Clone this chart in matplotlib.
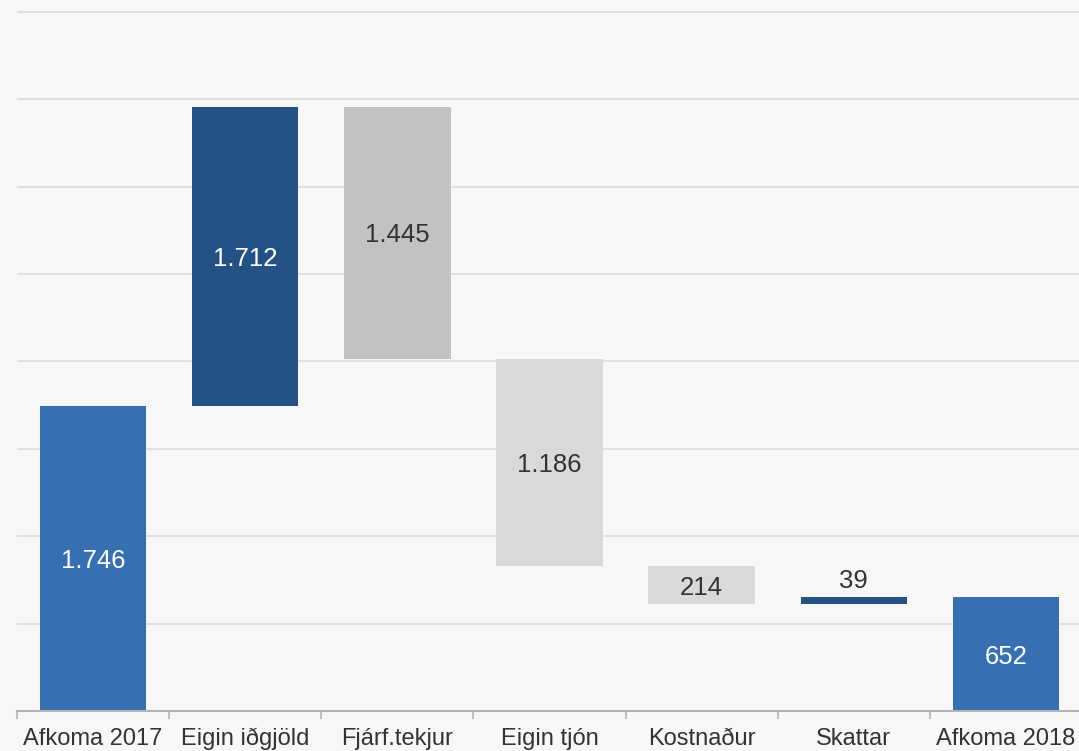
import matplotlib
matplotlib.use("Agg")
import matplotlib.pyplot as plt

categories = ["Afkoma 2017", "Eigin iðgjöld", "Fjárf.tekjur", "Eigin tjón", "Kostnaður", "Skattar", "Afkoma 2018"]
values = [1746, 1712, -1445, -1186, -214, 39, 652]
kinds = ["total", "delta", "delta", "delta", "delta", "delta", "total"]
labels = ["1.746", "1.712", "1.445", "1.186", "214", "39", "652"]
colors = ["#3670b2", "#245284", "#c1c2c1", "#d9d9d9", "#d9d9d9", "#245284", "#3670b2"]
label_colors = ["white", "white", "#333333", "#333333", "#333333", "#333333", "white"]
label_pos = ["in", "in", "in", "in", "in", "above", "in"]

plt.rcParams["font.family"] = ["Liberation Sans", "DejaVu Sans"]

W, H = 1079, 751
fig = plt.figure(figsize=(W / 100, H / 100), dpi=100)
fig.patch.set_facecolor("#f7f7f7")
left = 17 / W
bottom = (H - 711) / H
ax = fig.add_axes([left, bottom, 1 - left, 1 - bottom])
ax.set_facecolor("#f7f7f7")

ax.set_ylim(0, 4000 * 711 / (711 - 12))
ax.set_xlim(-0.5, 6.48)

# gridlines
ax.set_yticks(range(0, 4001, 500))
ax.yaxis.grid(True, color="#dcdcdc", linewidth=1.2)
ax.set_axisbelow(True)
ax.tick_params(axis="y", length=0, labelleft=False)

running = 0
for i, (v, k) in enumerate(zip(values, kinds)):
    if k == "total":
        b, h = 0, v
        running = v
    else:
        if v >= 0:
            b, h = running, v
        else:
            b, h = running + v, -v
        running += v
    ax.bar(i, h, bottom=b, width=0.70, color=colors[i], zorder=2)
    if label_pos[i] == "in":
        ax.text(i, b + h / 2, labels[i], ha="center", va="center_baseline",
                color=label_colors[i], fontsize=18.5, zorder=3)
    else:
        ax.text(i, b + h + 25, labels[i], ha="center", va="bottom",
                color=label_colors[i], fontsize=18.5, zorder=3)

for s in ["top", "right", "left"]:
    ax.spines[s].set_visible(False)
ax.spines["bottom"].set_color("#b4b4b4")
ax.spines["bottom"].set_linewidth(1.5)

# category boundary ticks
ax.set_xticks([i - 0.5 for i in range(len(categories))])
ax.set_xticklabels([])
ax.tick_params(axis="x", length=6, width=1.2, color="#b4b4b4")
ax.set_xticks(range(len(categories)), minor=True)
ax.set_xticklabels(categories, minor=True, fontsize=17, color="#333333")
ax.tick_params(axis="x", which="minor", length=0, pad=12)

fig.savefig("out.png", dpi=100, facecolor=fig.get_facecolor())
